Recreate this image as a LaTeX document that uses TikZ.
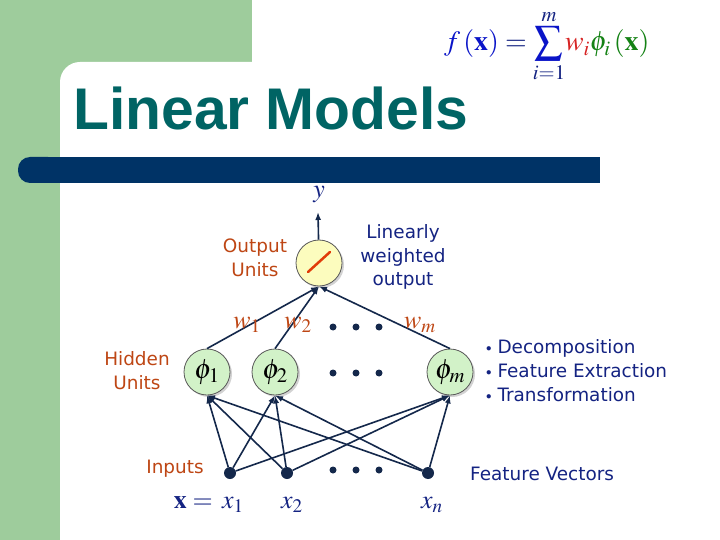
\documentclass[tikz,border=0pt]{standalone}
\usepackage{mathptmx}
\usepackage[no-math]{fontspec}
\setmainfont{Liberation Serif}
\newfontfamily\titlefont{Liberation Sans}
\newfontfamily\comicfont{DejaVu Sans}
\usetikzlibrary{arrows.meta,shadows}
\definecolor{bggreen}{RGB}{158,204,156}
\definecolor{barblue}{RGB}{0,51,102}
\definecolor{titleteal}{RGB}{0,100,100}
\definecolor{brownlbl}{RGB}{190,70,20}
\definecolor{navylbl}{RGB}{20,35,130}
\definecolor{edgeblue}{RGB}{20,40,75}
\definecolor{fblue}{RGB}{10,20,200}
\definecolor{wred}{RGB}{215,35,35}
\definecolor{phigreen}{RGB}{20,130,20}
\definecolor{hiddenfill}{RGB}{210,242,200}
\definecolor{outfill}{RGB}{252,252,190}
\definecolor{slashred}{RGB}{225,60,10}
\newcommand{\smallbul}{{\fontsize{11}{11}\selectfont\raisebox{0.35ex}{$\bullet$}}\ }
\tikzset{
  unit/.style={circle, minimum size=46bp, inner sep=0pt, draw=gray!70!black, thick,
    drop shadow={shadow xshift=2bp, shadow yshift=-2bp, opacity=0.35}},
  hidden/.style={unit, fill=hiddenfill, font=\fontsize{28}{30}\selectfont},
  outunit/.style={unit, fill=outfill},
  inp/.style={circle, fill=edgeblue, minimum size=12bp, inner sep=0pt},
  edge/.style={draw=edgeblue, line width=1.6bp},
  comic/.style={font=\comicfont\fontsize{18.5}{24}\selectfont, align=center, inner sep=0pt},
  brownlbl/.style={comic, text=brownlbl},
  navytext/.style={comic, text=navylbl},
  wlbl/.style={text=brownlbl, font=\fontsize{26}{28}\selectfont, inner sep=0pt},
  xlbl/.style={text=navylbl, font=\fontsize{26}{28}\selectfont, inner sep=0pt}
}
\begin{document}
\begin{tikzpicture}[x=1bp, y=-1bp, >={Latex[length=8bp,width=6bp]}]
  \useasboundingbox (0,0) rectangle (720,540);
  % Hintergrund
  \begin{scope}
    \clip (0,0) rectangle (720,540);
    \fill[white] (0,0) rectangle (720,540);
    \fill[bggreen] (0,0) rectangle (252,100);
    \fill[bggreen] (0,0) rectangle (60,540);
    \fill[white, rounded corners=20bp] (60,62) rectangle (760,580);
    \fill[barblue, rounded corners=12bp] (18,157) rectangle (60,183);
    \fill[barblue] (40,157) rectangle (600,183);
  \end{scope}
  % Titel und Formel
  \node[anchor=base west, inner sep=0pt, text=titleteal,
    font=\titlefont\bfseries\fontsize{59}{60}\selectfont] (title) at (73,130) {Linear Models};
  \node[anchor=west, inner sep=0pt, font=\fontsize{28}{32}\selectfont] (formula) at (444,46)
    {$\displaystyle {\color{fblue}f\,(\mathbf{x})} \mathrel{\color{navylbl}=}
      {\color{fblue}\sum\limits_{{\color{navylbl}i=1}}^{{\color{navylbl}m}}}
      {\color{wred}w_i}{\color{phigreen}\phi_i\,(\mathbf{x})}$};
  % Neuronen
  \node[outunit] (out) at (319,263) {};
  \draw[slashred, line width=2.5bp, line cap=round] (out.center) ++(-11,9) -- ++(22,-20);
  \node[hidden] (h1) at (207,372) {$\phi_1$};
  \node[hidden] (h2) at (275,372) {$\phi_2$};
  \node[hidden] (hm) at (450,372) {$\phi_m$};
  \node[inp] (x1) at (230,473) {};
  \node[inp] (x2) at (287,473) {};
  \node[inp] (xn) at (428,473) {};
  % Verbindungen
  \coordinate (ytip) at (318,212);
  \draw[edge,->] (out) -- (ytip);
  \foreach \h in {h1,h2,hm} \draw[edge,->] (\h.north) -- (out.south);
  \foreach \i in {x1,x2,xn}
    \foreach \h in {h1,h2,hm} \draw[edge,->] (\i) -- (\h.south);
  % Punkte
  \foreach \y in {327,373,470}
    \foreach \x in {333,356,379} \fill[edgeblue] (\x,\y) circle (3.5bp);
  % Beschriftung
  \node[xlbl] (ylbl) at (319,195) {$y$};
  \node[wlbl] (w1) at (247,325) {$w_1$};
  \node[wlbl] (w2) at (298,325) {$w_2$};
  \node[wlbl] (wm) at (420,325) {$w_m$};
  \node[xlbl] (xlab1) at (233,505) {$x_1$};
  \node[xlbl] (xlab2) at (292,505) {$x_2$};
  \node[xlbl] (xlabn) at (432,505) {$x_n$};
  \node[xlbl, anchor=east] (xvec) at (213,502) {$\mathbf{x} =$};
  \node[brownlbl] (outtxt) at (255,258) {Output\\Units};
  \node[brownlbl] (hidtxt) at (137,371) {Hidden\\Units};
  \node[brownlbl] (inptxt) at (175,469) {Inputs};
  \node[navytext] (lintxt) at (403,257) {Linearly\\weighted\\output};
  \node[navytext, anchor=west, align=left] (feattxt) at (486,371)
    {\smallbul Decomposition\\\smallbul Feature Extraction\\\smallbul Transformation};
  \node[navytext, anchor=west] (vectxt) at (470,474) {Feature Vectors};
\end{tikzpicture}
\end{document}
